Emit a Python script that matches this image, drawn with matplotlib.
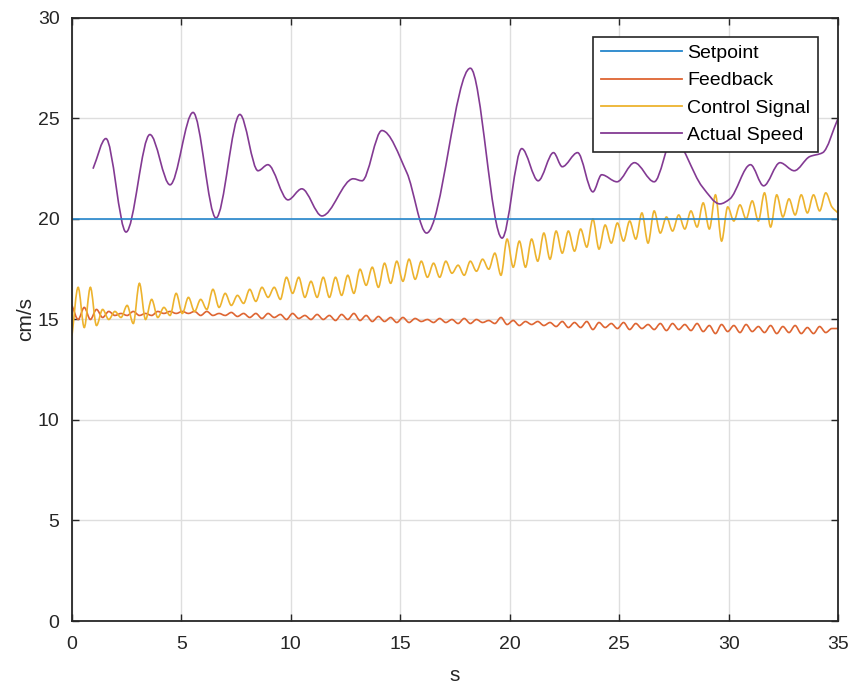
import matplotlib
matplotlib.use("Agg")
import matplotlib.pyplot as plt
import numpy as np
from matplotlib.path import Path
from matplotlib.patches import PathPatch
from matplotlib.lines import Line2D

plt.rcParams['font.family'] = ['Liberation Sans', 'DejaVu Sans']

# setpoint
setpoint_t = [0, 35]
setpoint = [20, 20]

# actual speed, read as turning points
speed_t = [0.96, 1.55, 2.47, 3.56, 4.48, 5.53, 6.58, 7.67, 8.5, 8.95, 9.87, 10.5,
           11.42, 12.85, 13.25, 14.16, 15.3, 16.2, 18.2, 19.65, 20.55, 21.3, 22.0,
           22.4, 23.1, 23.8, 24.2, 24.9, 25.7, 26.6, 27.45, 28.8, 29.6, 30.06, 31.0,
           31.6, 32.35, 33.0, 33.7, 34.3, 35.0]
speed = [22.5, 24.0, 19.35, 24.2, 21.7, 25.3, 20.05, 25.2, 22.4, 22.7, 20.95, 21.5,
         20.15, 22.0, 21.9, 24.4, 22.3, 19.3, 27.5, 19.05, 23.5, 21.9, 23.3,
         22.6, 23.3, 21.35, 22.2, 21.85, 22.8, 21.85, 24.0, 21.6, 20.75, 21.0, 22.7,
         21.65, 22.8, 22.4, 23.1, 23.3, 25.0]

# control signal and feedback: peaks/troughs every 0.28 s
osc_t = np.arange(126) * 0.28
control = [14.2, 16.6, 14.6, 16.6, 14.7, 15.5, 15.0, 15.4, 15.1, 15.7,
           14.8, 16.8, 15.0, 16.0, 15.1, 15.6, 15.2, 16.3, 15.3, 16.1,
           15.4, 16.0, 15.5, 16.5, 15.6, 16.3, 15.7, 16.2, 15.8, 16.5,
           15.9, 16.6, 16.1, 16.6, 16.0, 17.1, 16.3, 17.1, 16.1, 16.9,
           16.1, 17.1, 16.1, 17.1, 16.2, 17.2, 16.3, 17.5, 16.7, 17.6,
           16.6, 17.8, 16.8, 17.9, 16.9, 18.0, 17.0, 17.9, 17.1, 17.8,
           17.1, 17.9, 17.3, 17.7, 17.2, 17.9, 17.4, 18.0, 17.5, 18.3,
           17.2, 19.0, 17.6, 18.9, 17.6, 19.0, 17.9, 19.3, 18.0, 19.4,
           18.3, 19.4, 18.4, 19.5, 18.6, 20.0, 18.5, 19.7, 18.8, 19.8,
           18.9, 19.9, 19.0, 20.3, 18.8, 20.4, 19.3, 20.1, 19.4, 20.2,
           19.5, 20.4, 19.6, 20.8, 19.5, 21.2, 18.9, 20.6, 19.9, 20.7,
           20.0, 20.9, 19.9, 21.3, 19.6, 21.2, 20.1, 21.0, 20.2, 21.2,
           20.3, 21.2, 20.4, 21.3, 20.6, 20.3]
feedback = [15.7, 15.0, 15.6, 15.0, 15.5, 15.1, 15.4, 15.2, 15.3, 15.2,
            15.4, 15.2, 15.3, 15.2, 15.4, 15.3, 15.4, 15.3, 15.4, 15.3,
            15.4, 15.2, 15.4, 15.2, 15.3, 15.2, 15.35, 15.15, 15.3, 15.1,
            15.3, 15.05, 15.3, 15.1, 15.25, 15.0, 15.3, 15.05, 15.2, 15.0,
            15.25, 15.0, 15.2, 14.95, 15.25, 15.0, 15.3, 14.95, 15.2, 14.9,
            15.15, 14.9, 15.1, 14.85, 15.1, 14.85, 15.05, 14.9, 15.0, 14.85,
            15.05, 14.85, 15.0, 14.8, 15.05, 14.8, 15.0, 14.85, 14.95, 14.8,
            15.1, 14.75, 14.95, 14.7, 14.9, 14.75, 14.9, 14.7, 14.85, 14.65,
            14.9, 14.6, 14.85, 14.6, 14.9, 14.5, 14.85, 14.6, 14.8, 14.55,
            14.85, 14.5, 14.8, 14.55, 14.75, 14.5, 14.8, 14.45, 14.8, 14.5,
            14.75, 14.45, 14.8, 14.4, 14.7, 14.3, 14.75, 14.4, 14.7, 14.35,
            14.75, 14.4, 14.65, 14.35, 14.7, 14.3, 14.65, 14.35, 14.7, 14.3,
            14.6, 14.3, 14.65, 14.35, 14.55, 14.55]

labels = ["Setpoint", "Feedback", "Control Signal", "Actual Speed"]
colors = ["#2486CC", "#DE6532", "#EDB32E", "#833A93"]


def curve(xs, ys):
    # cubic hermite through the read points, drawn as bezier segments
    xs = np.asarray(xs, float)
    ys = np.asarray(ys, float)
    n = len(xs)
    sec = np.diff(ys) / np.diff(xs)
    m = np.zeros(n)
    m[0] = sec[0]
    m[-1] = sec[-1]
    for i in range(1, n - 1):
        if sec[i - 1] * sec[i] > 0:
            m[i] = 2 / (1 / sec[i - 1] + 1 / sec[i])
    verts = [(xs[0], ys[0])]
    codes = [Path.MOVETO]
    for i in range(n - 1):
        d = (xs[i + 1] - xs[i]) / 3
        verts += [(xs[i] + d, ys[i] + m[i] * d),
                  (xs[i + 1] - d, ys[i + 1] - m[i + 1] * d),
                  (xs[i + 1], ys[i + 1])]
        codes += [Path.CURVE4] * 3
    return Path(verts, codes)


fig = plt.figure(figsize=(8.54, 6.91), dpi=100)
ax = fig.add_axes([0.0843, 0.1013, 0.897, 0.8727])

ax.plot(setpoint_t, setpoint, color=colors[0], lw=1.2)
for xs, ys, c in [(osc_t, feedback, colors[1]), (osc_t, control, colors[2]),
                  (speed_t, speed, colors[3])]:
    ax.add_patch(PathPatch(curve(xs, ys), fill=False, edgecolor=c, lw=1.2))

ax.set_xlim(0, 35)
ax.set_ylim(0, 30)
ax.set_xticks(range(0, 36, 5))
ax.set_yticks(range(0, 31, 5))
ax.grid(True, color="#dedede", lw=1)
ax.set_axisbelow(True)
ax.tick_params(axis="x", pad=11)
ax.tick_params(direction="in", length=5, width=1, top=True, right=True,
               labelsize=14, colors="#262626")
ax.tick_params(axis="y", pad=9)
for s in ax.spines.values():
    s.set_color("#262626")
    s.set_linewidth(1.3)
ax.set_xlabel("s", fontsize=15, color="#262626", labelpad=9)
ax.set_ylabel("cm/s", fontsize=15, color="#262626", labelpad=2)

handles = [Line2D([], [], color=c, lw=1.3) for c in colors]
leg = ax.legend(handles, labels, loc="upper right", bbox_to_anchor=(0.974, 0.969),
                borderaxespad=0, fontsize=14, handlelength=4.2, handletextpad=0.25,
                labelspacing=0.5, borderpad=0.4, fancybox=False, framealpha=1,
                edgecolor="#262626")
leg.get_frame().set_linewidth(1.2)

fig.savefig("out.png", dpi=100)
